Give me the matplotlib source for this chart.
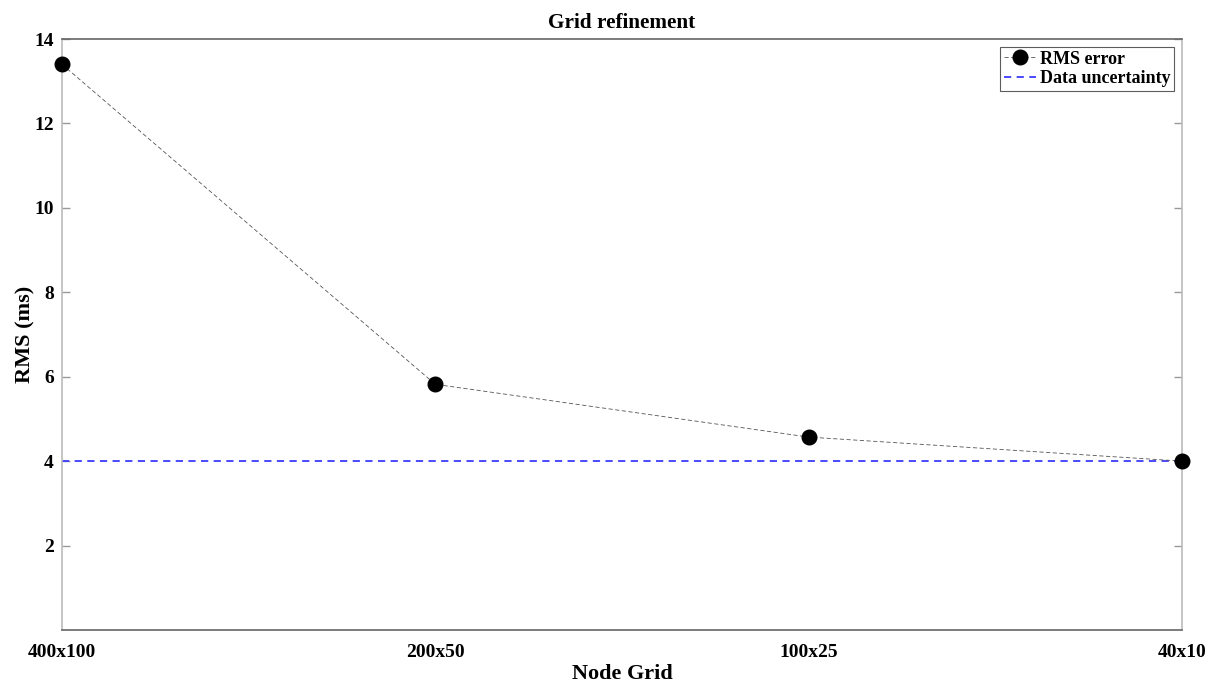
import matplotlib
matplotlib.use("Agg")
import matplotlib.pyplot as plt

grids = ["400x100", "200x50", "100x25", "40x10"]
rms_error = [13.4, 5.82, 4.57, 4.0]
data_uncertainty = 4.0
y_ticks = [2, 4, 6, 8, 10, 12, 14]

plt.rcParams["font.family"] = ["Liberation Serif", "DejaVu Serif"]
plt.rcParams["font.weight"] = "bold"

fig = plt.figure(figsize=(12.08, 6.84), dpi=100)
ax = fig.add_axes([62 / 1208, 1 - 630 / 684, (1182 - 62) / 1208, (630 - 39) / 684])

x = list(range(len(grids)))
ax.axhline(data_uncertainty, color="#3b3bff", linestyle="--", linewidth=1.3,
           dashes=(4, 3), label="Data uncertainty")
ax.plot(x, rms_error, linestyle="--", color="#555555", linewidth=0.6,
        marker="o", markersize=10.5, markerfacecolor="black",
        markeredgecolor="black", label="RMS error", dashes=(5, 3),
        clip_on=False, zorder=3)

ax.set_xlim(0, len(grids) - 1)
ax.set_ylim(0, 14)
ax.set_xticks(x)
ax.set_xticklabels(grids)
ax.set_yticks(y_ticks)
ax.tick_params(axis="both", direction="in", labelsize=14, length=6,
               color="#999999", width=1, pad=6)
ax.tick_params(axis="y", right=True)
ax.tick_params(axis="x", top=False, length=0, pad=10)

for side in ["left", "right"]:
    ax.spines[side].set_color("#bbbbbb")
for side in ["top", "bottom"]:
    ax.spines[side].set_color("#666666")
for s in ax.spines.values():
    s.set_linewidth(1.2)

ax.set_title("Grid refinement", fontsize=15.3, fontweight="bold", pad=8)
ax.set_xlabel("Node Grid", fontsize=16, fontweight="bold")
ax.set_ylabel("RMS (ms)", fontsize=16, fontweight="bold")
ax.xaxis.set_label_coords(0.5, -(664 - 630) / 591)
ax.yaxis.set_label_coords(-(62 - 35) / 1120, 0.5)

handles, labels = ax.get_legend_handles_labels()
order = [labels.index("RMS error"), labels.index("Data uncertainty")]
leg = ax.legend([handles[i] for i in order], [labels[i] for i in order],
                loc="upper right", fontsize=13, frameon=True, fancybox=False,
                borderaxespad=0.45, handlelength=1.8, handletextpad=0.2,
                borderpad=0.2, labelspacing=0.15)
leg.get_frame().set_edgecolor("#333333")
leg.get_frame().set_linewidth(0.8)

fig.savefig("out.png", dpi=100)
